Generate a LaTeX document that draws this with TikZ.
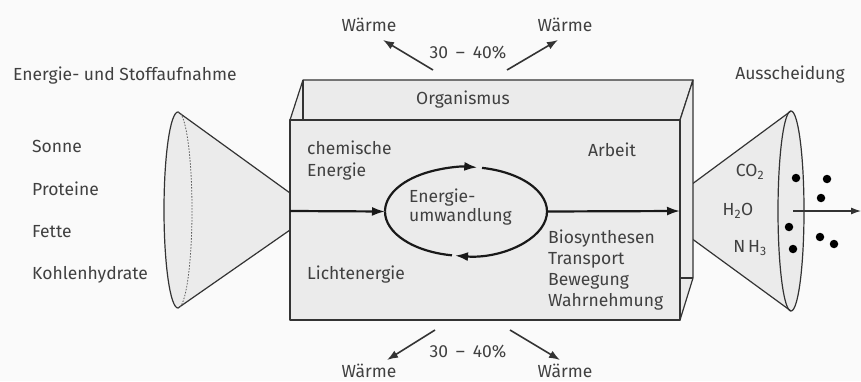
\documentclass[tikz,border=0pt]{standalone}
\usepackage{fontspec}
\setmainfont{Fira Sans}
\usetikzlibrary{arrows.meta,calc}
\definecolor{bg}{HTML}{FAFAFA}
\definecolor{facec}{HTML}{EBEBEB}
\definecolor{lin}{HTML}{333333}
\definecolor{txt}{HTML}{404040}
\begin{document}
\begin{tikzpicture}[x=1pt,y=1pt,
  lbl/.style={font=\fontsize{17.5}{21}\selectfont, text=txt, inner sep=0pt},
  face/.style={fill=facec, draw=lin, line width=1.2pt, line join=round},
  edge/.style={draw=lin, line width=1.2pt},
  arr/.style={draw=black!90, line width=2.2pt, -{Latex[length=13pt,width=9pt]}},
  warr/.style={draw=lin, line width=1.6pt, -{Latex[length=11pt,width=8pt]}},
  tarr/.style={draw=lin, line width=1.1pt, -{Latex[length=10pt,width=7pt]}},
  dot/.style={circle, fill=black, inner sep=0pt, minimum size=8.5pt},
]
\path[fill=bg] (0,0) rectangle (861,381);
\useasboundingbox (0,0) rectangle (861,381);

% left cone
\coordinate (LT) at (178,269);
\coordinate (LB) at (178,73);
\coordinate (LA1) at (290,188);
\coordinate (LA2) at (290,151);
\fill[facec] (LT) -- (LA1) -- (LA2) -- (LB) arc[start angle=270, end angle=90, x radius=14, y radius=98] -- cycle;
\draw[edge] (LA1) -- (LT) arc[start angle=90, end angle=270, x radius=14, y radius=98] -- (LA2);
\draw[draw=lin!80, line width=0.8pt, dash pattern=on 1.5pt off 1.5pt] (LT) arc[start angle=90, end angle=-90, x radius=14, y radius=98];

% right cone
\coordinate (RT) at (791,270);
\coordinate (RB) at (791,70);
\coordinate (RA1) at (680,188);
\coordinate (RA2) at (680,151);
\fill[facec] (RA2) -- (RA1) -- (RT) arc[start angle=90, end angle=-90, x radius=13, y radius=100] -- cycle;
\draw[edge] (RA1) -- (RT);
\draw[edge] (RA2) -- (RB);
\draw[edge] (791,170) ellipse[x radius=13, y radius=100];

% box
\coordinate (F1) at (290,61);
\coordinate (F2) at (680,61);
\coordinate (F3) at (680,261);
\coordinate (F4) at (290,261);
\coordinate (B4) at (303,301);
\coordinate (B3) at (693,301);
\coordinate (B2) at (693,103);
\coordinate (S) at (680,103);
\coordinate (K) at (303,261);
\filldraw[face] (F4) -- (B4) -- (B3) -- (F3) -- cycle;
\filldraw[face] (F3) -- (B3) -- (B2) -- (F2) -- cycle;
\draw[edge] (B4) -- (K);
\draw[edge] (S) -- (B2);
\filldraw[face] (F1) rectangle (F3);

% central cycle
\coordinate (EC) at (466,169.5);
\coordinate (EL) at (385,169.5);
\coordinate (ER) at (547,169.5);
\coordinate (E1) at ($(EC)+(78.6:81 and 44.5)$);
\coordinate (E2) at ($(EC)+(-100:81 and 44.5)$);
\draw[arr] (EL) arc[start angle=180, end angle=82, x radius=81, y radius=44.5];
\draw[arr] (E1) arc[start angle=78.6, end angle=-97.8, x radius=81, y radius=44.5];
\draw[draw=black!90, line width=2.2pt] (E2) arc[start angle=-100, end angle=-180, x radius=81, y radius=44.5];

% main arrows
\coordinate (AL) at (290,170);
\coordinate (AR) at (680,170);
\draw[arr] (AL) -- (EL);
\draw[arr] (ER) -- (AR);
\coordinate (O1) at (793,170);
\coordinate (O2) at (861,170);
\draw[tarr] (O1) -- (O2);

% dots
\node[dot] (d1) at (796,203) {};
\node[dot] (d2) at (827,202) {};
\node[dot] (d3) at (821,183) {};
\node[dot] (d4) at (789,154) {};
\node[dot] (d5) at (820,144) {};
\node[dot] (d6) at (834,137) {};
\node[dot] (d7) at (793,132) {};

% heat arrows
\coordinate (h1a) at (433,311); \coordinate (h1b) at (383,341);
\coordinate (h2a) at (507,311); \coordinate (h2b) at (558,341);
\coordinate (h3a) at (435,51);  \coordinate (h3b) at (387,21);
\coordinate (h4a) at (510,51);  \coordinate (h4b) at (560,21);
\draw[warr] (h1a) -- (h1b);
\draw[warr] (h2a) -- (h2b);
\draw[warr] (h3a) -- (h3b);
\draw[warr] (h4a) -- (h4b);

% texts
\node[lbl] (w1) at (369,356) {Wärme};
\node[lbl] (w2) at (565,356) {Wärme};
\node[lbl, anchor=base] (w3) at (369,4) {Wärme};
\node[lbl, anchor=base] (w4) at (565,4) {Wärme};
\node[lbl] (p1) at (468,328) {30\hspace{0.45em}–\hspace{0.45em}40\%};
\node[lbl] (p2) at (468,29) {30\hspace{0.45em}–\hspace{0.45em}40\%};
\node[lbl] (org) at (463,281) {Organismus};
\node[lbl, anchor=west, align=left, font=\fontsize{17.5}{22}\selectfont] (chem) at (307,220) {chemische\\Energie};
\node[lbl, anchor=west, align=left, font=\fontsize{17.5}{19}\selectfont] (eu) at (409,173.5) {Energie-\\umwandlung};
\node[lbl, anchor=west] (licht) at (307,106) {Lichtenergie};
\node[lbl] (arb) at (612,231) {Arbeit};
\node[lbl, anchor=west, align=left, font=\fontsize{17.5}{21.3}\selectfont] (bio) at (548,111) {Biosynthesen\\Transport\\Bewegung\\Wahrnehmung};
\node[lbl] (co2) at (750,209) {CO\textsubscript{2}};
\node[lbl] (h2o) at (738,170) {H\textsubscript{2}O};
\node[lbl] (nh3) at (750,133) {N\,H\textsubscript{3}};
\node[lbl] (aus) at (790,306) {Ausscheidung};
\node[lbl, anchor=west] (esa) at (13,305) {Energie- und Stoffaufnahme};
\node[lbl, anchor=west] (son) at (32,235) {Sonne};
\node[lbl, anchor=west] (pro) at (32,192) {Proteine};
\node[lbl, anchor=west] (fet) at (32,149) {Fette};
\node[lbl, anchor=west] (koh) at (32,106) {Kohlenhydrate};
\end{tikzpicture}
\end{document}
